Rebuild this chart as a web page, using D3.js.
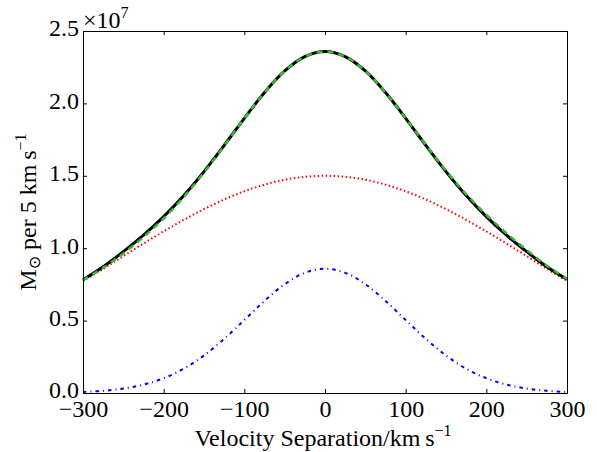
<!DOCTYPE html>
<html>
<head>
<meta charset="utf-8">
<script src="https://cdn.jsdelivr.net/npm/d3@7"></script>
<style>
  html, body { margin: 0; padding: 0; background: #fff; }
  svg text { font-family: "Liberation Serif", "DejaVu Serif", serif; fill: #000; }
</style>
</head>
<body>
<svg id="chart" width="597" height="452"></svg>
<script>
// Velocity separation (km/s)
const velocity = [-300,-275,-250,-225,-200,-175,-150,-125,-100,-75,-50,-25,0,25,50,75,100,125,150,175,200,225,250,275,300];
// Values in units of 1e7 Msun per 5 km/s
const totalProfile = [0.782,0.872,0.976,1.090,1.218,1.364,1.529,1.710,1.897,2.075,2.224,2.323,2.358,2.323,2.224,2.075,1.897,1.710,1.529,1.364,1.218,1.090,0.976,0.872,0.785];
const fitProfile   = [0.780,0.864,0.964,1.077,1.205,1.354,1.523,1.707,1.897,2.075,2.224,2.323,2.358,2.323,2.224,2.075,1.897,1.713,1.535,1.374,1.231,1.103,0.988,0.880,0.787];
const broadComp    = [0.775,0.857,0.945,1.032,1.116,1.196,1.270,1.336,1.393,1.439,1.473,1.493,1.500,1.493,1.473,1.439,1.393,1.336,1.270,1.196,1.116,1.032,0.945,0.857,0.775];
const narrowComp   = [0.007,0.015,0.031,0.058,0.102,0.168,0.259,0.374,0.504,0.636,0.751,0.830,0.858,0.830,0.751,0.636,0.504,0.374,0.259,0.168,0.102,0.058,0.031,0.015,0.007];
const xTicks = [-300,-200,-100,0,100,200,300];
const yTicks = [0.0,0.5,1.0,1.5,2.0,2.5];

const W = 597, H = 452;
const m = {left: 83, right: 30, top: 31, bottom: 59};
const iw = W - m.left - m.right, ih = H - m.top - m.bottom;

const svg = d3.select("#chart");
const g = svg.append("g").attr("transform", `translate(${m.left},${m.top})`);

const x = d3.scaleLinear().domain([-300, 300]).range([0, iw]);
const y = d3.scaleLinear().domain([0, 2.5]).range([ih, 0]);

const line = (vals) => d3.line()
  .x((d, i) => x(velocity[i]))
  .y(d => y(d))
  .curve(d3.curveCatmullRom.alpha(0.5))(vals);

g.append("path").attr("d", line(broadComp))
  .attr("fill", "none").attr("stroke", "#ff0000").attr("stroke-width", 2)
  .attr("stroke-dasharray", "1.5,2.5");
g.append("path").attr("d", line(narrowComp))
  .attr("fill", "none").attr("stroke", "#0000ff").attr("stroke-width", 2)
  .attr("stroke-dasharray", "3.5,4,1,4");
g.append("path").attr("d", line(totalProfile))
  .attr("fill", "none").attr("stroke", "#000").attr("stroke-width", 3);
g.append("path").attr("d", line(fitProfile))
  .attr("fill", "none").attr("stroke", "#33bb33").attr("stroke-width", 2.5)
  .attr("stroke-dasharray", "6,5");

const fs = "24px";
const xb = g.append("g").attr("transform", `translate(0,${ih})`)
  .call(d3.axisBottom(x).tickValues(xTicks).tickFormat(d3.format("d")).tickSize(-4).tickSizeOuter(0).tickPadding(8));
const yl = g.append("g")
  .call(d3.axisLeft(y).tickValues(yTicks).tickFormat(d3.format(".1f")).tickSize(-4).tickSizeOuter(0).tickPadding(4));
g.append("g").call(d3.axisTop(x).tickValues(xTicks).tickFormat("").tickSize(-4).tickSizeOuter(0));
g.append("g").attr("transform", `translate(${iw},0)`)
  .call(d3.axisRight(y).tickValues(yTicks).tickFormat("").tickSize(-4).tickSizeOuter(0));

g.selectAll(".domain").attr("stroke", "#000").attr("stroke-width", 1);
g.selectAll(".tick line").attr("stroke", "#000").attr("stroke-width", 1);
g.selectAll(".tick text").style("font-size", fs).style("font-family", "Liberation Serif, DejaVu Serif, serif");
xb.selectAll(".tick text").attr("dy", "0.68em");
yl.selectAll(".tick text").attr("dy", "0.2em");

// offset multiplier
const mult = svg.append("text").attr("x", m.left).attr("y", 28).style("font-size", "24px");
mult.append("tspan").text("×10");
mult.append("tspan").attr("dy", -10).style("font-size", "16px").text("7");

// x label
const xt = svg.append("text").attr("x", m.left + iw / 2 - 2).attr("y", 446)
  .attr("text-anchor", "middle").style("font-size", fs);
xt.append("tspan").text("Velocity Separation/km\u2009s");
xt.append("tspan").attr("dy", -10).style("font-size", "16px").text("−1");

// y label
const yt = svg.append("text").attr("transform", `translate(36,${m.top + ih / 2}) rotate(-90)`)
  .attr("text-anchor", "middle").style("font-size", fs);
yt.append("tspan").text("M");
yt.append("tspan").attr("dy", 4).style("font-size", "16px").style("font-family", "DejaVu Sans").text("⊙");
yt.append("tspan").attr("dy", -4).text(" per 5 km\u2009s");
yt.append("tspan").attr("dy", -10).style("font-size", "16px").text("−1");
</script>
</body>
</html>
